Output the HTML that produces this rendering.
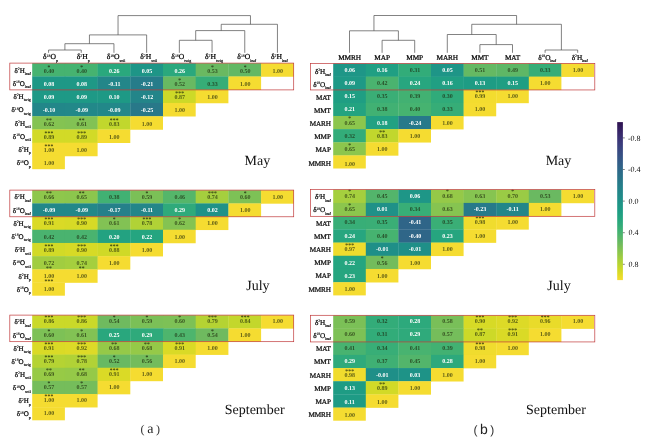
<!DOCTYPE html>
<html lang="en"><head><meta charset="utf-8"><title>Correlation heatmaps</title>
<style>
html,body{margin:0;padding:0;background:#fff}
body{width:650px;height:446px;overflow:hidden}
svg{display:block}
text{font-family:"Liberation Serif",serif;text-rendering:geometricPrecision}
.n{font-size:6px;font-weight:bold;text-anchor:middle}
.s{font-size:5.6px;font-weight:bold;text-anchor:middle;letter-spacing:.2px}
.w{fill:#fff}
.d{fill:#1a2208;fill-opacity:.7}
.s.d{fill-opacity:.85}
.la{font-size:7px;fill:#000;stroke:#000;stroke-width:.22px}
.lb{font-size:7.2px;fill:#000;stroke:#000;stroke-width:.22px;letter-spacing:-.1px}
.ca{font-size:7.6px;fill:#000;stroke:#000;stroke-width:.22px}
.cb2{font-size:7.3px;fill:#000;stroke:#000;stroke-width:.22px;letter-spacing:-.1px}
.sp{font-size:3.8px;stroke-width:.1px}
.sb{font-size:4px;stroke-width:.15px}
.m{font-size:14px;fill:#111}
.cb{font-size:8px;fill:#111}
.pr{font-size:12px;fill:#333}
.cap{font-size:14px;fill:#222}
.capb{font-size:14px;fill:#222;font-family:"Liberation Sans",sans-serif}
</style></head><body>
<svg width="650" height="446" viewBox="0 0 650 446">
<rect width="650" height="446" fill="#fff"/>
<rect x="32.20" y="63.20" width="33.00" height="13.55" fill="#46b370"/>
<rect x="64.90" y="63.20" width="33.00" height="13.55" fill="#46b370"/>
<rect x="97.60" y="63.20" width="33.00" height="13.55" fill="#2aa87d"/>
<rect x="130.30" y="63.20" width="33.00" height="13.55" fill="#1e9587"/>
<rect x="163.00" y="63.20" width="33.00" height="13.55" fill="#2aa87d"/>
<rect x="195.70" y="63.20" width="33.00" height="13.55" fill="#6ab961"/>
<rect x="228.40" y="63.20" width="33.00" height="13.55" fill="#63b864"/>
<rect x="261.10" y="63.20" width="32.70" height="13.55" fill="#f5dc31"/>
<rect x="32.20" y="76.45" width="33.00" height="13.55" fill="#1e9886"/>
<rect x="64.90" y="76.45" width="33.00" height="13.55" fill="#1e9886"/>
<rect x="97.60" y="76.45" width="33.00" height="13.55" fill="#238689"/>
<rect x="130.30" y="76.45" width="33.00" height="13.55" fill="#267c8a"/>
<rect x="163.00" y="76.45" width="33.00" height="13.55" fill="#68b962"/>
<rect x="195.70" y="76.45" width="33.00" height="13.55" fill="#36ad77"/>
<rect x="228.40" y="76.45" width="32.70" height="13.55" fill="#f5dc31"/>
<rect x="32.20" y="89.70" width="33.00" height="13.55" fill="#1e9986"/>
<rect x="64.90" y="89.70" width="33.00" height="13.55" fill="#1e9986"/>
<rect x="97.60" y="89.70" width="33.00" height="13.55" fill="#1e9985"/>
<rect x="130.30" y="89.70" width="33.00" height="13.55" fill="#238589"/>
<rect x="163.00" y="89.70" width="33.00" height="13.55" fill="#cdd928"/>
<rect x="195.70" y="89.70" width="32.70" height="13.55" fill="#f5dc31"/>
<rect x="32.20" y="102.95" width="33.00" height="13.55" fill="#228789"/>
<rect x="64.90" y="102.95" width="33.00" height="13.55" fill="#228889"/>
<rect x="97.60" y="102.95" width="33.00" height="13.55" fill="#228889"/>
<rect x="130.30" y="102.95" width="33.00" height="13.55" fill="#287889"/>
<rect x="163.00" y="102.95" width="32.70" height="13.55" fill="#f5dc31"/>
<rect x="32.20" y="116.20" width="33.00" height="13.55" fill="#84c352"/>
<rect x="64.90" y="116.20" width="33.00" height="13.55" fill="#82c254"/>
<rect x="97.60" y="116.20" width="33.00" height="13.55" fill="#c1d72d"/>
<rect x="130.30" y="116.20" width="32.70" height="13.55" fill="#f5dc31"/>
<rect x="32.20" y="129.45" width="33.00" height="13.55" fill="#d2da27"/>
<rect x="64.90" y="129.45" width="33.00" height="13.55" fill="#d2da27"/>
<rect x="97.60" y="129.45" width="32.70" height="13.55" fill="#f5dc31"/>
<rect x="32.20" y="142.70" width="33.00" height="13.55" fill="#f5dc31"/>
<rect x="64.90" y="142.70" width="32.70" height="13.55" fill="#f5dc31"/>
<rect x="32.20" y="155.95" width="32.70" height="13.25" fill="#f5dc31"/>
<text class="n d" x="48.95" y="72.72">0.40</text>
<text class="s d" x="48.95" y="68.62">*</text>
<text class="n d" x="81.65" y="72.72">0.40</text>
<text class="s d" x="81.65" y="68.62">*</text>
<text class="n w" x="114.35" y="72.72">0.26</text>
<text class="n w" x="147.05" y="72.72">0.05</text>
<text class="n w" x="179.75" y="72.72">0.26</text>
<text class="n d" x="212.45" y="72.72">0.53</text>
<text class="s d" x="212.45" y="68.62">*</text>
<text class="n d" x="245.15" y="72.72">0.50</text>
<text class="s d" x="245.15" y="68.62">*</text>
<text class="n d" x="277.85" y="72.72">1.00</text>
<text class="n w" x="48.95" y="85.97">0.08</text>
<text class="n w" x="81.65" y="85.97">0.08</text>
<text class="n w" x="114.35" y="85.97">-0.11</text>
<text class="n w" x="147.05" y="85.97">-0.21</text>
<text class="n d" x="179.75" y="85.97">0.52</text>
<text class="s d" x="179.75" y="81.88">*</text>
<text class="n d" x="212.45" y="85.97">0.33</text>
<text class="n d" x="245.15" y="85.97">1.00</text>
<text class="n w" x="48.95" y="99.22">0.09</text>
<text class="n w" x="81.65" y="99.22">0.09</text>
<text class="n w" x="114.35" y="99.22">0.10</text>
<text class="n w" x="147.05" y="99.22">-0.12</text>
<text class="n d" x="179.75" y="99.22">0.87</text>
<text class="s d" x="179.75" y="95.12">***</text>
<text class="n d" x="212.45" y="99.22">1.00</text>
<text class="n w" x="48.95" y="112.47">-0.10</text>
<text class="n w" x="81.65" y="112.47">-0.09</text>
<text class="n w" x="114.35" y="112.47">-0.09</text>
<text class="n w" x="147.05" y="112.47">-0.25</text>
<text class="n d" x="179.75" y="112.47">1.00</text>
<text class="n d" x="48.95" y="125.72">0.62</text>
<text class="s d" x="48.95" y="121.62">**</text>
<text class="n d" x="81.65" y="125.72">0.61</text>
<text class="s d" x="81.65" y="121.62">**</text>
<text class="n d" x="114.35" y="125.72">0.83</text>
<text class="s d" x="114.35" y="121.62">***</text>
<text class="n d" x="147.05" y="125.72">1.00</text>
<text class="n d" x="48.95" y="138.97">0.89</text>
<text class="s d" x="48.95" y="134.88">***</text>
<text class="n d" x="81.65" y="138.97">0.89</text>
<text class="s d" x="81.65" y="134.88">***</text>
<text class="n d" x="114.35" y="138.97">1.00</text>
<text class="n d" x="48.95" y="152.22">1.00</text>
<text class="s d" x="48.95" y="148.12">***</text>
<text class="n d" x="81.65" y="152.22">1.00</text>
<text class="n d" x="48.95" y="165.47">1.00</text>
<text class="la" text-anchor="end" x="30.80" y="72.53">&#948;<tspan class="sp" dy="-2.6">2</tspan><tspan dy="2.6">H</tspan><tspan class="sb" dy="2.4">leaf</tspan></text>
<text class="la" text-anchor="end" x="30.80" y="85.78">&#948;<tspan class="sp" dy="-2.6">18</tspan><tspan dy="2.6">O</tspan><tspan class="sb" dy="2.4">leaf</tspan></text>
<text class="la" text-anchor="end" x="30.80" y="99.03">&#948;<tspan class="sp" dy="-2.6">2</tspan><tspan dy="2.6">H</tspan><tspan class="sb" dy="2.4">twig</tspan></text>
<text class="la" text-anchor="end" x="30.80" y="112.27">&#948;<tspan class="sp" dy="-2.6">18</tspan><tspan dy="2.6">O</tspan><tspan class="sb" dy="2.4">twig</tspan></text>
<text class="la" text-anchor="end" x="30.80" y="125.52">&#948;<tspan class="sp" dy="-2.6">2</tspan><tspan dy="2.6">H</tspan><tspan class="sb" dy="2.4">soil</tspan></text>
<text class="la" text-anchor="end" x="30.80" y="138.77">&#948;<tspan class="sp" dy="-2.6">18</tspan><tspan dy="2.6">O</tspan><tspan class="sb" dy="2.4">soil</tspan></text>
<text class="la" text-anchor="end" x="30.80" y="152.02">&#948;<tspan class="sp" dy="-2.6">2</tspan><tspan dy="2.6">H</tspan><tspan class="sb" dy="2.4">p</tspan></text>
<text class="la" text-anchor="end" x="30.80" y="165.27">&#948;<tspan class="sp" dy="-2.6">18</tspan><tspan dy="2.6">O</tspan><tspan class="sb" dy="2.4">p</tspan></text>
<rect x="9.80" y="63.10" width="283.90" height="26.80" fill="none" stroke="#c0393b" stroke-width="0.7"/>
<rect x="32.20" y="190.20" width="33.00" height="13.49" fill="#8ec74c"/>
<rect x="64.90" y="190.20" width="33.00" height="13.49" fill="#8cc64d"/>
<rect x="97.60" y="190.20" width="33.00" height="13.49" fill="#41b173"/>
<rect x="130.30" y="190.20" width="33.00" height="13.49" fill="#7bc057"/>
<rect x="163.00" y="190.20" width="33.00" height="13.49" fill="#55b66a"/>
<rect x="195.70" y="190.20" width="33.00" height="13.49" fill="#a5cf3e"/>
<rect x="228.40" y="190.20" width="33.00" height="13.49" fill="#7dc156"/>
<rect x="261.10" y="190.20" width="32.70" height="13.49" fill="#f5dc31"/>
<rect x="32.20" y="203.39" width="33.00" height="13.49" fill="#228889"/>
<rect x="64.90" y="203.39" width="33.00" height="13.49" fill="#228889"/>
<rect x="97.60" y="203.39" width="33.00" height="13.49" fill="#25808a"/>
<rect x="130.30" y="203.39" width="33.00" height="13.49" fill="#238689"/>
<rect x="163.00" y="203.39" width="33.00" height="13.49" fill="#2faa7b"/>
<rect x="195.70" y="203.39" width="33.00" height="13.49" fill="#1f9288"/>
<rect x="228.40" y="203.39" width="32.70" height="13.49" fill="#f5dc31"/>
<rect x="32.20" y="216.57" width="33.00" height="13.49" fill="#dada26"/>
<rect x="64.90" y="216.57" width="33.00" height="13.49" fill="#d7da26"/>
<rect x="97.60" y="216.57" width="33.00" height="13.49" fill="#82c254"/>
<rect x="130.30" y="216.57" width="33.00" height="13.49" fill="#b1d236"/>
<rect x="163.00" y="216.57" width="33.00" height="13.49" fill="#84c352"/>
<rect x="195.70" y="216.57" width="32.70" height="13.49" fill="#f5dc31"/>
<rect x="32.20" y="229.76" width="33.00" height="13.49" fill="#4ab36f"/>
<rect x="64.90" y="229.76" width="33.00" height="13.49" fill="#4ab36f"/>
<rect x="97.60" y="229.76" width="33.00" height="13.49" fill="#23a281"/>
<rect x="130.30" y="229.76" width="33.00" height="13.49" fill="#25a580"/>
<rect x="163.00" y="229.76" width="32.70" height="13.49" fill="#f5dc31"/>
<rect x="32.20" y="242.95" width="33.00" height="13.49" fill="#d2da27"/>
<rect x="64.90" y="242.95" width="33.00" height="13.49" fill="#d7da26"/>
<rect x="97.60" y="242.95" width="33.00" height="13.49" fill="#d0d927"/>
<rect x="130.30" y="242.95" width="32.70" height="13.49" fill="#f5dc31"/>
<rect x="32.20" y="256.14" width="33.00" height="13.49" fill="#a1cd40"/>
<rect x="64.90" y="256.14" width="33.00" height="13.49" fill="#a5cf3e"/>
<rect x="97.60" y="256.14" width="32.70" height="13.49" fill="#f5dc31"/>
<rect x="32.20" y="269.32" width="33.00" height="13.49" fill="#f5dc31"/>
<rect x="64.90" y="269.32" width="32.70" height="13.49" fill="#f5dc31"/>
<rect x="32.20" y="282.51" width="32.70" height="13.19" fill="#f5dc31"/>
<text class="n d" x="48.95" y="199.09">0.66</text>
<text class="s d" x="48.95" y="194.99">**</text>
<text class="n d" x="81.65" y="199.09">0.65</text>
<text class="s d" x="81.65" y="194.99">**</text>
<text class="n d" x="114.35" y="199.09">0.38</text>
<text class="n d" x="147.05" y="199.09">0.59</text>
<text class="s d" x="147.05" y="194.99">*</text>
<text class="n d" x="179.75" y="199.09">0.46</text>
<text class="n d" x="212.45" y="199.09">0.74</text>
<text class="s d" x="212.45" y="194.99">***</text>
<text class="n d" x="245.15" y="199.09">0.60</text>
<text class="s d" x="245.15" y="194.99">*</text>
<text class="n d" x="277.85" y="199.09">1.00</text>
<text class="n w" x="48.95" y="212.28">-0.09</text>
<text class="n w" x="81.65" y="212.28">-0.09</text>
<text class="n w" x="114.35" y="212.28">-0.17</text>
<text class="n w" x="147.05" y="212.28">-0.11</text>
<text class="n w" x="179.75" y="212.28">0.29</text>
<text class="n w" x="212.45" y="212.28">0.02</text>
<text class="n d" x="245.15" y="212.28">1.00</text>
<text class="n d" x="48.95" y="225.47">0.91</text>
<text class="s d" x="48.95" y="221.37">***</text>
<text class="n d" x="81.65" y="225.47">0.90</text>
<text class="s d" x="81.65" y="221.37">***</text>
<text class="n d" x="114.35" y="225.47">0.61</text>
<text class="s d" x="114.35" y="221.37">*</text>
<text class="n d" x="147.05" y="225.47">0.78</text>
<text class="s d" x="147.05" y="221.37">***</text>
<text class="n d" x="179.75" y="225.47">0.62</text>
<text class="s d" x="179.75" y="221.37">*</text>
<text class="n d" x="212.45" y="225.47">1.00</text>
<text class="n d" x="48.95" y="238.66">0.42</text>
<text class="n d" x="81.65" y="238.66">0.42</text>
<text class="n w" x="114.35" y="238.66">0.20</text>
<text class="n w" x="147.05" y="238.66">0.22</text>
<text class="n d" x="179.75" y="238.66">1.00</text>
<text class="n d" x="48.95" y="251.84">0.89</text>
<text class="s d" x="48.95" y="247.74">***</text>
<text class="n d" x="81.65" y="251.84">0.90</text>
<text class="s d" x="81.65" y="247.74">***</text>
<text class="n d" x="114.35" y="251.84">0.88</text>
<text class="s d" x="114.35" y="247.74">***</text>
<text class="n d" x="147.05" y="251.84">1.00</text>
<text class="n d" x="48.95" y="265.03">0.72</text>
<text class="s d" x="48.95" y="269.93">**</text>
<text class="n d" x="81.65" y="265.03">0.74</text>
<text class="s d" x="81.65" y="269.93">**</text>
<text class="n d" x="114.35" y="265.03">1.00</text>
<text class="n d" x="48.95" y="278.22">1.00</text>
<text class="s d" x="48.95" y="283.12">***</text>
<text class="n d" x="81.65" y="278.22">1.00</text>
<text class="n d" x="48.95" y="291.41">1.00</text>
<text class="la" text-anchor="end" x="30.80" y="199.49">&#948;<tspan class="sp" dy="-2.6">2</tspan><tspan dy="2.6">H</tspan><tspan class="sb" dy="2.4">leaf</tspan></text>
<text class="la" text-anchor="end" x="30.80" y="212.68">&#948;<tspan class="sp" dy="-2.6">18</tspan><tspan dy="2.6">O</tspan><tspan class="sb" dy="2.4">leaf</tspan></text>
<text class="la" text-anchor="end" x="30.80" y="225.87">&#948;<tspan class="sp" dy="-2.6">2</tspan><tspan dy="2.6">H</tspan><tspan class="sb" dy="2.4">twig</tspan></text>
<text class="la" text-anchor="end" x="30.80" y="239.06">&#948;<tspan class="sp" dy="-2.6">18</tspan><tspan dy="2.6">O</tspan><tspan class="sb" dy="2.4">twig</tspan></text>
<text class="la" text-anchor="end" x="30.80" y="252.24">&#948;<tspan class="sp" dy="-2.6">2</tspan><tspan dy="2.6">H</tspan><tspan class="sb" dy="2.4">soil</tspan></text>
<text class="la" text-anchor="end" x="30.80" y="265.43">&#948;<tspan class="sp" dy="-2.6">18</tspan><tspan dy="2.6">O</tspan><tspan class="sb" dy="2.4">soil</tspan></text>
<text class="la" text-anchor="end" x="30.80" y="278.62">&#948;<tspan class="sp" dy="-2.6">2</tspan><tspan dy="2.6">H</tspan><tspan class="sb" dy="2.4">p</tspan></text>
<text class="la" text-anchor="end" x="30.80" y="291.81">&#948;<tspan class="sp" dy="-2.6">18</tspan><tspan dy="2.6">O</tspan><tspan class="sb" dy="2.4">p</tspan></text>
<rect x="9.80" y="190.10" width="283.90" height="26.68" fill="none" stroke="#c0393b" stroke-width="0.7"/>
<rect x="32.20" y="315.20" width="33.00" height="13.44" fill="#cad929"/>
<rect x="64.90" y="315.20" width="33.00" height="13.44" fill="#cad929"/>
<rect x="97.60" y="315.20" width="33.00" height="13.44" fill="#6fba5f"/>
<rect x="130.30" y="315.20" width="33.00" height="13.44" fill="#7bc057"/>
<rect x="163.00" y="315.20" width="33.00" height="13.44" fill="#7dc156"/>
<rect x="195.70" y="315.20" width="33.00" height="13.44" fill="#b5d333"/>
<rect x="228.40" y="315.20" width="33.00" height="13.44" fill="#c3d72c"/>
<rect x="261.10" y="315.20" width="32.70" height="13.44" fill="#f5dc31"/>
<rect x="32.20" y="328.34" width="33.00" height="13.44" fill="#7dc156"/>
<rect x="64.90" y="328.34" width="33.00" height="13.44" fill="#82c254"/>
<rect x="97.60" y="328.34" width="33.00" height="13.44" fill="#29a77d"/>
<rect x="130.30" y="328.34" width="33.00" height="13.44" fill="#2faa7b"/>
<rect x="163.00" y="328.34" width="33.00" height="13.44" fill="#4eb56d"/>
<rect x="195.70" y="328.34" width="33.00" height="13.44" fill="#6fba5f"/>
<rect x="228.40" y="328.34" width="32.70" height="13.44" fill="#f5dc31"/>
<rect x="32.20" y="341.48" width="33.00" height="13.44" fill="#dada26"/>
<rect x="64.90" y="341.48" width="33.00" height="13.44" fill="#ddda27"/>
<rect x="97.60" y="341.48" width="33.00" height="13.44" fill="#95c948"/>
<rect x="130.30" y="341.48" width="33.00" height="13.44" fill="#95c948"/>
<rect x="163.00" y="341.48" width="33.00" height="13.44" fill="#dada26"/>
<rect x="195.70" y="341.48" width="32.70" height="13.44" fill="#f5dc31"/>
<rect x="32.20" y="354.61" width="33.00" height="13.44" fill="#b5d333"/>
<rect x="64.90" y="354.61" width="33.00" height="13.44" fill="#b1d236"/>
<rect x="97.60" y="354.61" width="33.00" height="13.44" fill="#68b962"/>
<rect x="130.30" y="354.61" width="33.00" height="13.44" fill="#73bc5c"/>
<rect x="163.00" y="354.61" width="32.70" height="13.44" fill="#f5dc31"/>
<rect x="32.20" y="367.75" width="33.00" height="13.44" fill="#97ca46"/>
<rect x="64.90" y="367.75" width="33.00" height="13.44" fill="#95c948"/>
<rect x="97.60" y="367.75" width="33.00" height="13.44" fill="#dada26"/>
<rect x="130.30" y="367.75" width="32.70" height="13.44" fill="#f5dc31"/>
<rect x="32.20" y="380.89" width="33.00" height="13.44" fill="#75bd5b"/>
<rect x="64.90" y="380.89" width="33.00" height="13.44" fill="#75bd5b"/>
<rect x="97.60" y="380.89" width="32.70" height="13.44" fill="#f5dc31"/>
<rect x="32.20" y="394.02" width="33.00" height="13.44" fill="#f5dc31"/>
<rect x="64.90" y="394.02" width="32.70" height="13.44" fill="#f5dc31"/>
<rect x="32.20" y="407.16" width="32.70" height="13.14" fill="#f5dc31"/>
<text class="n d" x="48.95" y="323.47">0.86</text>
<text class="s d" x="48.95" y="319.37">***</text>
<text class="n d" x="81.65" y="323.47">0.86</text>
<text class="s d" x="81.65" y="319.37">***</text>
<text class="n d" x="114.35" y="323.47">0.54</text>
<text class="s d" x="114.35" y="319.37">*</text>
<text class="n d" x="147.05" y="323.47">0.59</text>
<text class="s d" x="147.05" y="319.37">*</text>
<text class="n d" x="179.75" y="323.47">0.60</text>
<text class="s d" x="179.75" y="319.37">*</text>
<text class="n d" x="212.45" y="323.47">0.79</text>
<text class="s d" x="212.45" y="319.37">***</text>
<text class="n d" x="245.15" y="323.47">0.84</text>
<text class="s d" x="245.15" y="319.37">***</text>
<text class="n d" x="277.85" y="323.47">1.00</text>
<text class="n d" x="48.95" y="336.61">0.60</text>
<text class="s d" x="48.95" y="332.51">*</text>
<text class="n d" x="81.65" y="336.61">0.61</text>
<text class="s d" x="81.65" y="332.51">*</text>
<text class="n w" x="114.35" y="336.61">0.25</text>
<text class="n w" x="147.05" y="336.61">0.29</text>
<text class="n d" x="179.75" y="336.61">0.43</text>
<text class="n d" x="212.45" y="336.61">0.54</text>
<text class="s d" x="212.45" y="332.51">*</text>
<text class="n d" x="245.15" y="336.61">1.00</text>
<text class="n d" x="48.95" y="349.74">0.91</text>
<text class="s d" x="48.95" y="345.64">***</text>
<text class="n d" x="81.65" y="349.74">0.92</text>
<text class="s d" x="81.65" y="345.64">***</text>
<text class="n d" x="114.35" y="349.74">0.68</text>
<text class="s d" x="114.35" y="345.64">**</text>
<text class="n d" x="147.05" y="349.74">0.68</text>
<text class="s d" x="147.05" y="345.64">**</text>
<text class="n d" x="179.75" y="349.74">0.91</text>
<text class="s d" x="179.75" y="345.64">***</text>
<text class="n d" x="212.45" y="349.74">1.00</text>
<text class="n d" x="48.95" y="362.88">0.79</text>
<text class="s d" x="48.95" y="358.78">***</text>
<text class="n d" x="81.65" y="362.88">0.78</text>
<text class="s d" x="81.65" y="358.78">***</text>
<text class="n d" x="114.35" y="362.88">0.52</text>
<text class="s d" x="114.35" y="358.78">*</text>
<text class="n d" x="147.05" y="362.88">0.56</text>
<text class="s d" x="147.05" y="358.78">*</text>
<text class="n d" x="179.75" y="362.88">1.00</text>
<text class="n d" x="48.95" y="376.02">0.69</text>
<text class="s d" x="48.95" y="371.92">**</text>
<text class="n d" x="81.65" y="376.02">0.68</text>
<text class="s d" x="81.65" y="371.92">**</text>
<text class="n d" x="114.35" y="376.02">0.91</text>
<text class="s d" x="114.35" y="371.92">***</text>
<text class="n d" x="147.05" y="376.02">1.00</text>
<text class="n d" x="48.95" y="389.16">0.57</text>
<text class="s d" x="48.95" y="385.06">*</text>
<text class="n d" x="81.65" y="389.16">0.57</text>
<text class="s d" x="81.65" y="385.06">*</text>
<text class="n d" x="114.35" y="389.16">1.00</text>
<text class="n d" x="48.95" y="402.29">1.00</text>
<text class="s d" x="48.95" y="398.19">***</text>
<text class="n d" x="81.65" y="402.29">1.00</text>
<text class="n d" x="48.95" y="415.43">1.00</text>
<text class="la" text-anchor="end" x="30.80" y="324.47">&#948;<tspan class="sp" dy="-2.6">2</tspan><tspan dy="2.6">H</tspan><tspan class="sb" dy="2.4">leaf</tspan></text>
<text class="la" text-anchor="end" x="30.80" y="337.61">&#948;<tspan class="sp" dy="-2.6">18</tspan><tspan dy="2.6">O</tspan><tspan class="sb" dy="2.4">leaf</tspan></text>
<text class="la" text-anchor="end" x="30.80" y="350.74">&#948;<tspan class="sp" dy="-2.6">2</tspan><tspan dy="2.6">H</tspan><tspan class="sb" dy="2.4">twig</tspan></text>
<text class="la" text-anchor="end" x="30.80" y="363.88">&#948;<tspan class="sp" dy="-2.6">18</tspan><tspan dy="2.6">O</tspan><tspan class="sb" dy="2.4">twig</tspan></text>
<text class="la" text-anchor="end" x="30.80" y="377.02">&#948;<tspan class="sp" dy="-2.6">2</tspan><tspan dy="2.6">H</tspan><tspan class="sb" dy="2.4">soil</tspan></text>
<text class="la" text-anchor="end" x="30.80" y="390.16">&#948;<tspan class="sp" dy="-2.6">18</tspan><tspan dy="2.6">O</tspan><tspan class="sb" dy="2.4">soil</tspan></text>
<text class="la" text-anchor="end" x="30.80" y="403.29">&#948;<tspan class="sp" dy="-2.6">2</tspan><tspan dy="2.6">H</tspan><tspan class="sb" dy="2.4">p</tspan></text>
<text class="la" text-anchor="end" x="30.80" y="416.43">&#948;<tspan class="sp" dy="-2.6">18</tspan><tspan dy="2.6">O</tspan><tspan class="sb" dy="2.4">p</tspan></text>
<rect x="9.80" y="315.10" width="283.90" height="26.58" fill="none" stroke="#c0393b" stroke-width="0.7"/>
<rect x="333.20" y="63.50" width="32.90" height="13.43" fill="#1e9687"/>
<rect x="365.80" y="63.50" width="32.90" height="13.43" fill="#209f83"/>
<rect x="398.40" y="63.50" width="32.90" height="13.43" fill="#32ac79"/>
<rect x="431.00" y="63.50" width="32.90" height="13.43" fill="#1e9587"/>
<rect x="463.60" y="63.50" width="32.90" height="13.43" fill="#65b963"/>
<rect x="496.20" y="63.50" width="32.90" height="13.43" fill="#5eb766"/>
<rect x="528.80" y="63.50" width="32.90" height="13.43" fill="#36ad77"/>
<rect x="561.40" y="63.50" width="32.60" height="13.43" fill="#f5dc31"/>
<rect x="333.20" y="76.62" width="32.90" height="13.43" fill="#1e9986"/>
<rect x="365.80" y="76.62" width="32.90" height="13.43" fill="#4ab36f"/>
<rect x="398.40" y="76.62" width="32.90" height="13.43" fill="#27a67f"/>
<rect x="431.00" y="76.62" width="32.90" height="13.43" fill="#209f83"/>
<rect x="463.60" y="76.62" width="32.90" height="13.43" fill="#1e9c84"/>
<rect x="496.20" y="76.62" width="32.90" height="13.43" fill="#1f9e83"/>
<rect x="528.80" y="76.62" width="32.60" height="13.43" fill="#f5dc31"/>
<rect x="333.20" y="89.75" width="32.90" height="13.43" fill="#1f9e83"/>
<rect x="365.80" y="89.75" width="32.90" height="13.43" fill="#3aae76"/>
<rect x="398.40" y="89.75" width="32.90" height="13.43" fill="#42b172"/>
<rect x="431.00" y="89.75" width="32.90" height="13.43" fill="#30ab7a"/>
<rect x="463.60" y="89.75" width="32.90" height="13.43" fill="#f3dc2f"/>
<rect x="496.20" y="89.75" width="32.60" height="13.43" fill="#f5dc31"/>
<rect x="333.20" y="102.88" width="32.90" height="13.43" fill="#23a380"/>
<rect x="365.80" y="102.88" width="32.90" height="13.43" fill="#41b173"/>
<rect x="398.40" y="102.88" width="32.90" height="13.43" fill="#46b370"/>
<rect x="431.00" y="102.88" width="32.90" height="13.43" fill="#36ad77"/>
<rect x="463.60" y="102.88" width="32.60" height="13.43" fill="#f5dc31"/>
<rect x="333.20" y="116.00" width="32.90" height="13.43" fill="#8cc64d"/>
<rect x="365.80" y="116.00" width="32.90" height="13.43" fill="#21a182"/>
<rect x="398.40" y="116.00" width="32.90" height="13.43" fill="#27798a"/>
<rect x="431.00" y="116.00" width="32.60" height="13.43" fill="#f5dc31"/>
<rect x="333.20" y="129.12" width="32.90" height="13.43" fill="#33ac79"/>
<rect x="365.80" y="129.12" width="32.90" height="13.43" fill="#c1d72d"/>
<rect x="398.40" y="129.12" width="32.60" height="13.43" fill="#f5dc31"/>
<rect x="333.20" y="142.25" width="32.90" height="13.43" fill="#8cc64d"/>
<rect x="365.80" y="142.25" width="32.60" height="13.43" fill="#f5dc31"/>
<rect x="333.20" y="155.38" width="32.60" height="13.12" fill="#f5dc31"/>
<text class="n w" x="349.70" y="71.66">0.06</text>
<text class="n w" x="382.30" y="71.66">0.16</text>
<text class="n d" x="414.90" y="71.66">0.31</text>
<text class="n w" x="447.50" y="71.66">0.05</text>
<text class="n d" x="480.10" y="71.66">0.51</text>
<text class="n d" x="512.70" y="71.66">0.49</text>
<text class="n d" x="545.30" y="71.66">0.33</text>
<text class="n d" x="577.90" y="71.66">1.00</text>
<text class="n w" x="349.70" y="84.89">0.09</text>
<text class="n d" x="382.30" y="84.89">0.42</text>
<text class="n w" x="414.90" y="84.89">0.24</text>
<text class="n w" x="447.50" y="84.89">0.16</text>
<text class="n w" x="480.10" y="84.89">0.13</text>
<text class="n w" x="512.70" y="84.89">0.15</text>
<text class="n d" x="545.30" y="84.89">1.00</text>
<text class="n w" x="349.70" y="98.11">0.15</text>
<text class="n d" x="382.30" y="98.11">0.35</text>
<text class="n d" x="414.90" y="98.11">0.39</text>
<text class="n d" x="447.50" y="98.11">0.30</text>
<text class="n d" x="480.10" y="98.11">0.99</text>
<text class="s d" x="480.10" y="94.01">***</text>
<text class="n d" x="512.70" y="98.11">1.00</text>
<text class="n w" x="349.70" y="111.34">0.21</text>
<text class="n d" x="382.30" y="111.34">0.38</text>
<text class="n d" x="414.90" y="111.34">0.40</text>
<text class="n d" x="447.50" y="111.34">0.33</text>
<text class="n d" x="480.10" y="111.34">1.00</text>
<text class="n d" x="349.70" y="124.56">0.65</text>
<text class="s d" x="349.70" y="120.46">*</text>
<text class="n w" x="382.30" y="124.56">0.18</text>
<text class="n w" x="414.90" y="124.56">-0.24</text>
<text class="n d" x="447.50" y="124.56">1.00</text>
<text class="n d" x="349.70" y="137.79">0.32</text>
<text class="n d" x="382.30" y="137.79">0.83</text>
<text class="s d" x="382.30" y="133.69">**</text>
<text class="n d" x="414.90" y="137.79">1.00</text>
<text class="n d" x="349.70" y="151.01">0.65</text>
<text class="s d" x="349.70" y="146.91">*</text>
<text class="n d" x="382.30" y="151.01">1.00</text>
<text class="n d" x="349.70" y="165.64">1.00</text>
<text class="lb" text-anchor="end" x="330.80" y="73.66">&#948;<tspan class="sp" dy="-2.6">2</tspan><tspan dy="2.6">H</tspan><tspan class="sb" dy="2.4">leaf</tspan></text>
<text class="lb" text-anchor="end" x="330.80" y="86.79">&#948;<tspan class="sp" dy="-2.6">18</tspan><tspan dy="2.6">O</tspan><tspan class="sb" dy="2.4">leaf</tspan></text>
<text class="lb" text-anchor="end" x="330.80" y="99.91">MAT</text>
<text class="lb" text-anchor="end" x="330.80" y="113.04">MMT</text>
<text class="lb" text-anchor="end" x="330.80" y="126.16">MARH</text>
<text class="lb" text-anchor="end" x="330.80" y="139.29">MMP</text>
<text class="lb" text-anchor="end" x="330.80" y="152.41">MAP</text>
<text class="lb" text-anchor="end" x="330.80" y="166.44">MMRH</text>
<rect x="310.60" y="63.40" width="284.20" height="26.55" fill="none" stroke="#c0393b" stroke-width="0.7"/>
<rect x="333.20" y="189.70" width="32.90" height="13.51" fill="#a5cf3e"/>
<rect x="365.80" y="189.70" width="32.90" height="13.51" fill="#53b56b"/>
<rect x="398.40" y="189.70" width="32.90" height="13.51" fill="#1e9687"/>
<rect x="431.00" y="189.70" width="32.90" height="13.51" fill="#95c948"/>
<rect x="463.60" y="189.70" width="32.90" height="13.51" fill="#86c451"/>
<rect x="496.20" y="189.70" width="32.90" height="13.51" fill="#9acb45"/>
<rect x="528.80" y="189.70" width="32.90" height="13.51" fill="#6ab961"/>
<rect x="561.40" y="189.70" width="32.60" height="13.51" fill="#f5dc31"/>
<rect x="333.20" y="202.91" width="32.90" height="13.51" fill="#8cc64d"/>
<rect x="365.80" y="202.91" width="32.90" height="13.51" fill="#1f9188"/>
<rect x="398.40" y="202.91" width="32.90" height="13.51" fill="#38ae77"/>
<rect x="431.00" y="202.91" width="32.90" height="13.51" fill="#86c451"/>
<rect x="463.60" y="202.91" width="32.90" height="13.51" fill="#277a8a"/>
<rect x="496.20" y="202.91" width="32.90" height="13.51" fill="#238689"/>
<rect x="528.80" y="202.91" width="32.60" height="13.51" fill="#f5dc31"/>
<rect x="333.20" y="216.12" width="32.90" height="13.51" fill="#38ae77"/>
<rect x="365.80" y="216.12" width="32.90" height="13.51" fill="#3aae76"/>
<rect x="398.40" y="216.12" width="32.90" height="13.51" fill="#2f6588"/>
<rect x="431.00" y="216.12" width="32.90" height="13.51" fill="#3aae76"/>
<rect x="463.60" y="216.12" width="32.90" height="13.51" fill="#f0dc2e"/>
<rect x="496.20" y="216.12" width="32.60" height="13.51" fill="#f5dc31"/>
<rect x="333.20" y="229.34" width="32.90" height="13.51" fill="#27a67f"/>
<rect x="365.80" y="229.34" width="32.90" height="13.51" fill="#46b370"/>
<rect x="398.40" y="229.34" width="32.90" height="13.51" fill="#2f6688"/>
<rect x="431.00" y="229.34" width="32.90" height="13.51" fill="#26a57f"/>
<rect x="463.60" y="229.34" width="32.60" height="13.51" fill="#f5dc31"/>
<rect x="333.20" y="242.55" width="32.90" height="13.51" fill="#eedc2d"/>
<rect x="365.80" y="242.55" width="32.90" height="13.51" fill="#1f8f88"/>
<rect x="398.40" y="242.55" width="32.90" height="13.51" fill="#1f8f88"/>
<rect x="431.00" y="242.55" width="32.60" height="13.51" fill="#f5dc31"/>
<rect x="333.20" y="255.76" width="32.90" height="13.51" fill="#25a580"/>
<rect x="365.80" y="255.76" width="32.90" height="13.51" fill="#73bc5c"/>
<rect x="398.40" y="255.76" width="32.60" height="13.51" fill="#f5dc31"/>
<rect x="333.20" y="268.97" width="32.90" height="13.51" fill="#26a57f"/>
<rect x="365.80" y="268.97" width="32.60" height="13.51" fill="#f5dc31"/>
<rect x="333.20" y="282.19" width="32.60" height="13.21" fill="#f5dc31"/>
<text class="n d" x="349.70" y="197.51">0.74</text>
<text class="s d" x="349.70" y="193.41">*</text>
<text class="n d" x="382.30" y="197.51">0.45</text>
<text class="n w" x="414.90" y="197.51">0.06</text>
<text class="n d" x="447.50" y="197.51">0.68</text>
<text class="s d" x="447.50" y="193.41">*</text>
<text class="n d" x="480.10" y="197.51">0.63</text>
<text class="n d" x="512.70" y="197.51">0.70</text>
<text class="s d" x="512.70" y="193.41">*</text>
<text class="n d" x="545.30" y="197.51">0.53</text>
<text class="n d" x="577.90" y="197.51">1.00</text>
<text class="n d" x="349.70" y="210.92">0.65</text>
<text class="s d" x="349.70" y="206.82">*</text>
<text class="n w" x="382.30" y="210.92">0.01</text>
<text class="n d" x="414.90" y="210.92">0.34</text>
<text class="n d" x="447.50" y="210.92">0.63</text>
<text class="n w" x="480.10" y="210.92">-0.23</text>
<text class="n w" x="512.70" y="210.92">-0.11</text>
<text class="n d" x="545.30" y="210.92">1.00</text>
<text class="n d" x="349.70" y="224.33">0.34</text>
<text class="n d" x="382.30" y="224.33">0.35</text>
<text class="n w" x="414.90" y="224.33">-0.41</text>
<text class="n d" x="447.50" y="224.33">0.35</text>
<text class="n d" x="480.10" y="224.33">0.98</text>
<text class="s d" x="480.10" y="220.23">***</text>
<text class="n d" x="512.70" y="224.33">1.00</text>
<text class="n w" x="349.70" y="237.74">0.24</text>
<text class="n d" x="382.30" y="237.74">0.40</text>
<text class="n w" x="414.90" y="237.74">-0.40</text>
<text class="n w" x="447.50" y="237.74">0.23</text>
<text class="n d" x="480.10" y="237.74">1.00</text>
<text class="n d" x="349.70" y="251.16">0.97</text>
<text class="s d" x="349.70" y="247.06">***</text>
<text class="n w" x="382.30" y="251.16">-0.01</text>
<text class="n w" x="414.90" y="251.16">-0.01</text>
<text class="n d" x="447.50" y="251.16">1.00</text>
<text class="n w" x="349.70" y="264.57">0.22</text>
<text class="n d" x="382.30" y="264.57">0.56</text>
<text class="s d" x="382.30" y="260.47">*</text>
<text class="n d" x="414.90" y="264.57">1.00</text>
<text class="n w" x="349.70" y="277.98">0.23</text>
<text class="n d" x="382.30" y="277.98">1.00</text>
<text class="n d" x="349.70" y="291.39">1.00</text>
<text class="lb" text-anchor="end" x="330.80" y="199.21">&#948;<tspan class="sp" dy="-2.6">2</tspan><tspan dy="2.6">H</tspan><tspan class="sb" dy="2.4">leaf</tspan></text>
<text class="lb" text-anchor="end" x="330.80" y="212.42">&#948;<tspan class="sp" dy="-2.6">18</tspan><tspan dy="2.6">O</tspan><tspan class="sb" dy="2.4">leaf</tspan></text>
<text class="lb" text-anchor="end" x="330.80" y="225.63">MAT</text>
<text class="lb" text-anchor="end" x="330.80" y="238.84">MMT</text>
<text class="lb" text-anchor="end" x="330.80" y="252.06">MARH</text>
<text class="lb" text-anchor="end" x="330.80" y="265.27">MMP</text>
<text class="lb" text-anchor="end" x="330.80" y="278.48">MAP</text>
<text class="lb" text-anchor="end" x="330.80" y="291.69">MMRH</text>
<rect x="310.60" y="189.60" width="284.20" height="26.72" fill="none" stroke="#c0393b" stroke-width="0.7"/>
<rect x="333.20" y="315.40" width="32.90" height="13.46" fill="#7bc057"/>
<rect x="365.80" y="315.40" width="32.90" height="13.46" fill="#33ac79"/>
<rect x="398.40" y="315.40" width="32.90" height="13.46" fill="#2da97c"/>
<rect x="431.00" y="315.40" width="32.90" height="13.46" fill="#79bf59"/>
<rect x="463.60" y="315.40" width="32.90" height="13.46" fill="#d7da26"/>
<rect x="496.20" y="315.40" width="32.90" height="13.46" fill="#ddda27"/>
<rect x="528.80" y="315.40" width="32.90" height="13.46" fill="#e9db2a"/>
<rect x="561.40" y="315.40" width="32.60" height="13.46" fill="#f5dc31"/>
<rect x="333.20" y="328.56" width="32.90" height="13.46" fill="#7dc156"/>
<rect x="365.80" y="328.56" width="32.90" height="13.46" fill="#32ac79"/>
<rect x="398.40" y="328.56" width="32.90" height="13.46" fill="#2faa7b"/>
<rect x="431.00" y="328.56" width="32.90" height="13.46" fill="#75bd5b"/>
<rect x="463.60" y="328.56" width="32.90" height="13.46" fill="#cdd928"/>
<rect x="496.20" y="328.56" width="32.90" height="13.46" fill="#dada26"/>
<rect x="528.80" y="328.56" width="32.60" height="13.46" fill="#f5dc31"/>
<rect x="333.20" y="341.72" width="32.90" height="13.46" fill="#48b370"/>
<rect x="365.80" y="341.72" width="32.90" height="13.46" fill="#38ae77"/>
<rect x="398.40" y="341.72" width="32.90" height="13.46" fill="#48b370"/>
<rect x="431.00" y="341.72" width="32.90" height="13.46" fill="#42b172"/>
<rect x="463.60" y="341.72" width="32.90" height="13.46" fill="#f0dc2e"/>
<rect x="496.20" y="341.72" width="32.60" height="13.46" fill="#f5dc31"/>
<rect x="333.20" y="354.89" width="32.90" height="13.46" fill="#2faa7b"/>
<rect x="365.80" y="354.89" width="32.90" height="13.46" fill="#3fb074"/>
<rect x="398.40" y="354.89" width="32.90" height="13.46" fill="#53b56b"/>
<rect x="431.00" y="354.89" width="32.90" height="13.46" fill="#2da97c"/>
<rect x="463.60" y="354.89" width="32.60" height="13.46" fill="#f5dc31"/>
<rect x="333.20" y="368.05" width="32.90" height="13.46" fill="#f0dc2e"/>
<rect x="365.80" y="368.05" width="32.90" height="13.46" fill="#1f8f88"/>
<rect x="398.40" y="368.05" width="32.90" height="13.46" fill="#1e9387"/>
<rect x="431.00" y="368.05" width="32.60" height="13.46" fill="#f5dc31"/>
<rect x="333.20" y="381.21" width="32.90" height="13.46" fill="#1e9c84"/>
<rect x="365.80" y="381.21" width="32.90" height="13.46" fill="#d2da27"/>
<rect x="398.40" y="381.21" width="32.60" height="13.46" fill="#f5dc31"/>
<rect x="333.20" y="394.38" width="32.90" height="13.46" fill="#1e9b85"/>
<rect x="365.80" y="394.38" width="32.60" height="13.46" fill="#f5dc31"/>
<rect x="333.20" y="407.54" width="32.60" height="13.16" fill="#f5dc31"/>
<text class="n d" x="349.70" y="323.08">0.59</text>
<text class="n d" x="382.30" y="323.08">0.32</text>
<text class="n w" x="414.90" y="323.08">0.28</text>
<text class="n d" x="447.50" y="323.08">0.58</text>
<text class="n d" x="480.10" y="323.08">0.90</text>
<text class="s d" x="480.10" y="318.98">***</text>
<text class="n d" x="512.70" y="323.08">0.92</text>
<text class="s d" x="512.70" y="318.98">***</text>
<text class="n d" x="545.30" y="323.08">0.96</text>
<text class="s d" x="545.30" y="318.98">***</text>
<text class="n d" x="577.90" y="323.08">1.00</text>
<text class="n d" x="349.70" y="336.49">0.60</text>
<text class="n d" x="382.30" y="336.49">0.31</text>
<text class="n w" x="414.90" y="336.49">0.29</text>
<text class="n d" x="447.50" y="336.49">0.57</text>
<text class="n d" x="480.10" y="336.49">0.87</text>
<text class="s d" x="480.10" y="332.39">**</text>
<text class="n d" x="512.70" y="336.49">0.91</text>
<text class="s d" x="512.70" y="332.39">***</text>
<text class="n d" x="545.30" y="336.49">1.00</text>
<text class="n d" x="349.70" y="349.91">0.41</text>
<text class="n d" x="382.30" y="349.91">0.34</text>
<text class="n d" x="414.90" y="349.91">0.41</text>
<text class="n d" x="447.50" y="349.91">0.39</text>
<text class="n d" x="480.10" y="349.91">0.98</text>
<text class="s d" x="480.10" y="345.81">***</text>
<text class="n d" x="512.70" y="349.91">1.00</text>
<text class="n w" x="349.70" y="363.32">0.29</text>
<text class="n d" x="382.30" y="363.32">0.37</text>
<text class="n d" x="414.90" y="363.32">0.45</text>
<text class="n w" x="447.50" y="363.32">0.28</text>
<text class="n d" x="480.10" y="363.32">1.00</text>
<text class="n d" x="349.70" y="376.73">0.98</text>
<text class="s d" x="349.70" y="372.63">***</text>
<text class="n w" x="382.30" y="376.73">-0.01</text>
<text class="n w" x="414.90" y="376.73">0.03</text>
<text class="n d" x="447.50" y="376.73">1.00</text>
<text class="n w" x="349.70" y="390.14">0.13</text>
<text class="n d" x="382.30" y="390.14">0.89</text>
<text class="s d" x="382.30" y="386.04">**</text>
<text class="n d" x="414.90" y="390.14">1.00</text>
<text class="n w" x="349.70" y="403.56">0.11</text>
<text class="n d" x="382.30" y="403.56">1.00</text>
<text class="n d" x="349.70" y="416.97">1.00</text>
<text class="lb" text-anchor="end" x="330.80" y="324.88">&#948;<tspan class="sp" dy="-2.6">2</tspan><tspan dy="2.6">H</tspan><tspan class="sb" dy="2.4">leaf</tspan></text>
<text class="lb" text-anchor="end" x="330.80" y="338.04">&#948;<tspan class="sp" dy="-2.6">18</tspan><tspan dy="2.6">O</tspan><tspan class="sb" dy="2.4">leaf</tspan></text>
<text class="lb" text-anchor="end" x="330.80" y="351.21">MAT</text>
<text class="lb" text-anchor="end" x="330.80" y="364.37">MMT</text>
<text class="lb" text-anchor="end" x="330.80" y="377.53">MARH</text>
<text class="lb" text-anchor="end" x="330.80" y="390.69">MMP</text>
<text class="lb" text-anchor="end" x="330.80" y="403.86">MAP</text>
<text class="lb" text-anchor="end" x="330.80" y="417.02">MMRH</text>
<rect x="310.60" y="315.30" width="284.20" height="26.63" fill="none" stroke="#c0393b" stroke-width="0.7"/>
<text class="ca" text-anchor="middle" x="50.55" y="59.40">&#948;<tspan class="sp" dy="-2.6">18</tspan><tspan dy="2.6">O</tspan><tspan class="sb" dy="2.4">p</tspan></text>
<text class="ca" text-anchor="middle" x="83.25" y="59.40">&#948;<tspan class="sp" dy="-2.6">2</tspan><tspan dy="2.6">H</tspan><tspan class="sb" dy="2.4">p</tspan></text>
<text class="ca" text-anchor="middle" x="115.95" y="59.40">&#948;<tspan class="sp" dy="-2.6">18</tspan><tspan dy="2.6">O</tspan><tspan class="sb" dy="2.4">soil</tspan></text>
<text class="ca" text-anchor="middle" x="148.65" y="59.40">&#948;<tspan class="sp" dy="-2.6">2</tspan><tspan dy="2.6">H</tspan><tspan class="sb" dy="2.4">soil</tspan></text>
<text class="ca" text-anchor="middle" x="181.35" y="59.40">&#948;<tspan class="sp" dy="-2.6">18</tspan><tspan dy="2.6">O</tspan><tspan class="sb" dy="2.4">twig</tspan></text>
<text class="ca" text-anchor="middle" x="214.05" y="59.40">&#948;<tspan class="sp" dy="-2.6">2</tspan><tspan dy="2.6">H</tspan><tspan class="sb" dy="2.4">twig</tspan></text>
<text class="ca" text-anchor="middle" x="246.75" y="59.40">&#948;<tspan class="sp" dy="-2.6">18</tspan><tspan dy="2.6">O</tspan><tspan class="sb" dy="2.4">leaf</tspan></text>
<text class="ca" text-anchor="middle" x="279.45" y="59.40">&#948;<tspan class="sp" dy="-2.6">2</tspan><tspan dy="2.6">H</tspan><tspan class="sb" dy="2.4">leaf</tspan></text>
<text class="cb2" text-anchor="middle" x="349.50" y="59.50">MMRH</text>
<text class="cb2" text-anchor="middle" x="382.10" y="59.50">MAP</text>
<text class="cb2" text-anchor="middle" x="414.70" y="59.50">MMP</text>
<text class="cb2" text-anchor="middle" x="447.30" y="59.50">MARH</text>
<text class="cb2" text-anchor="middle" x="479.90" y="59.50">MMT</text>
<text class="cb2" text-anchor="middle" x="512.50" y="59.50">MAT</text>
<text class="cb2" text-anchor="middle" x="547.10" y="59.50">&#948;<tspan class="sp" dy="-2.6">18</tspan><tspan dy="2.6">O</tspan><tspan class="sb" dy="2.4">leaf</tspan></text>
<text class="cb2" text-anchor="middle" x="579.70" y="59.50">&#948;<tspan class="sp" dy="-2.6">2</tspan><tspan dy="2.6">H</tspan><tspan class="sb" dy="2.4">leaf</tspan></text>
<path d="M48.55 52.80V50.00H81.25V52.80M64.90 50.00V43.70H113.95V52.80M89.43 43.70V34.90H146.65V52.80M179.35 52.80V40.30H212.05V52.80M195.70 40.30V30.60H244.75V52.80M221.21 30.60V24.30H277.45V52.80M118.04 34.90V15.60H250.47V24.30" fill="none" stroke="#4d4d4d" stroke-width="0.7"/>
<path d="M382.10 52.80V40.30H414.70V52.80M349.50 52.80V30.80H398.40V40.30M479.90 52.80V44.60H512.50V52.80M447.30 52.80V34.50H496.20V44.60M545.10 52.80V50.00H577.70V52.80M471.75 34.50V24.30H561.40V50.00M373.95 30.80V15.50H516.58V24.30" fill="none" stroke="#4d4d4d" stroke-width="0.7"/>
<text class="m" text-anchor="middle" x="257.4" y="164.6">May</text>
<text class="m" text-anchor="middle" x="257.9" y="289.8">July</text>
<text class="m" text-anchor="middle" x="254.7" y="414.0">September</text>
<text class="m" text-anchor="middle" x="558.5" y="164.6">May</text>
<text class="m" text-anchor="middle" x="559.0" y="289.8">July</text>
<text class="m" text-anchor="middle" x="556.0" y="414.0">September</text>
<defs><linearGradient id="cb" x1="0" y1="0" x2="0" y2="1">
<stop offset="0.0000" stop-color="#2e114f"/>
<stop offset="0.0312" stop-color="#331c5c"/>
<stop offset="0.0625" stop-color="#372668"/>
<stop offset="0.0938" stop-color="#3a3072"/>
<stop offset="0.1250" stop-color="#3b397a"/>
<stop offset="0.1562" stop-color="#3a427f"/>
<stop offset="0.1875" stop-color="#384b82"/>
<stop offset="0.2188" stop-color="#365385"/>
<stop offset="0.2500" stop-color="#335b87"/>
<stop offset="0.2812" stop-color="#306388"/>
<stop offset="0.3125" stop-color="#2d6a89"/>
<stop offset="0.3438" stop-color="#2a7189"/>
<stop offset="0.3750" stop-color="#287889"/>
<stop offset="0.4062" stop-color="#257f8a"/>
<stop offset="0.4375" stop-color="#238589"/>
<stop offset="0.4688" stop-color="#218b89"/>
<stop offset="0.5000" stop-color="#1f9188"/>
<stop offset="0.5312" stop-color="#1e9786"/>
<stop offset="0.5625" stop-color="#1e9c84"/>
<stop offset="0.5938" stop-color="#22a281"/>
<stop offset="0.6250" stop-color="#29a77d"/>
<stop offset="0.6562" stop-color="#33ac79"/>
<stop offset="0.6875" stop-color="#41b173"/>
<stop offset="0.7188" stop-color="#51b56c"/>
<stop offset="0.7500" stop-color="#63b864"/>
<stop offset="0.7812" stop-color="#75bd5b"/>
<stop offset="0.8125" stop-color="#86c451"/>
<stop offset="0.8438" stop-color="#97ca46"/>
<stop offset="0.8750" stop-color="#aad03b"/>
<stop offset="0.9062" stop-color="#bcd52f"/>
<stop offset="0.9375" stop-color="#d0d927"/>
<stop offset="0.9688" stop-color="#e4db28"/>
<stop offset="1.0000" stop-color="#f5dc31"/>
</linearGradient></defs>
<rect x="617.2" y="122.1" width="5.7" height="158.0" fill="url(#cb)"/>
<line x1="622.9" x2="624.8" y1="137.90" y2="137.90" stroke="#333" stroke-width="0.6"/>
<text class="cb" x="627.9" y="140.60">-0.8</text>
<line x1="622.9" x2="624.8" y1="169.50" y2="169.50" stroke="#333" stroke-width="0.6"/>
<text class="cb" x="627.9" y="172.20">-0.4</text>
<line x1="622.9" x2="624.8" y1="201.10" y2="201.10" stroke="#333" stroke-width="0.6"/>
<text class="cb" x="628.6" y="203.80">0.0</text>
<line x1="622.9" x2="624.8" y1="232.70" y2="232.70" stroke="#333" stroke-width="0.6"/>
<text class="cb" x="628.6" y="235.40">0.4</text>
<line x1="622.9" x2="624.8" y1="264.30" y2="264.30" stroke="#333" stroke-width="0.6"/>
<text class="cb" x="628.6" y="267.00">0.8</text>
<text class="cap" x="140.4" y="433.1"><tspan class="pr" dy="-0.6">(</tspan><tspan dx="2.9" dy="0.6">a</tspan><tspan class="pr" dx="2.6" dy="-0.6">)</tspan></text>
<text class="capb" x="473.4" y="434.1"><tspan class="pr" dy="-0.4">(</tspan><tspan dx="2.6" dy="0.4">b</tspan><tspan class="pr" dx="2.4" dy="-0.4">)</tspan></text>
</svg>
</body></html>
